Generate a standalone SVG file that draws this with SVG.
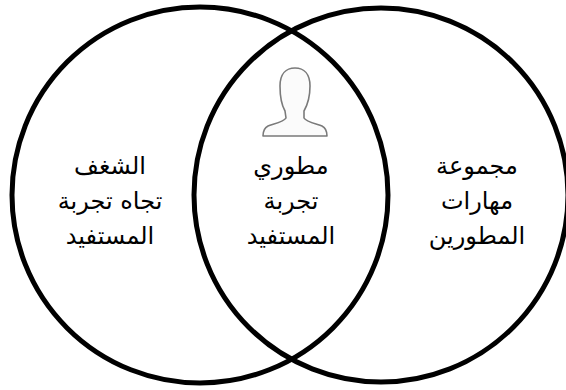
<svg xmlns="http://www.w3.org/2000/svg" width="566" height="390" viewBox="0 0 566 390">
<style>
.ring{fill:none;stroke:#000;stroke-width:5}
.lbl{font-family:"DejaVu Sans","Noto Sans",sans-serif;font-size:24px;fill:#000;text-anchor:middle;direction:rtl}
.icon{fill:#fbfbfb;stroke:#7a7a7a;stroke-width:1.6;stroke-linejoin:round}
</style>
<rect width="566" height="390" fill="#fff"/>
<g id="left-circle">
<circle class="ring" cx="200" cy="195" r="188"/>
<text class="lbl" x="110" y="174">الشغف</text>
<text class="lbl" x="110" y="209">تجاه تجربة</text>
<text class="lbl" x="110" y="244">المستفيد</text>
</g>
<g id="right-circle">
<circle class="ring" cx="381" cy="195" r="187"/>
<text class="lbl" x="477" y="174">مجموعة</text>
<text class="lbl" x="477" y="209">مهارات</text>
<text class="lbl" x="477" y="244">المطورين</text>
</g>
<g id="intersection">
<path class="icon" d="M285,111 C281,104 280,96 280,86 C280,74 286,68 295,68 C304,68 310,74 310,86 C310,96 308,104 304,111 L304,118 C306,122 317,124 322,126 C326,128 327,131 327,136 L263,136 C263,131 264,128 268,126 C273,124 284,122 286,118 Z"/>
<text class="lbl" x="291" y="174">مطوري</text>
<text class="lbl" x="291" y="209">تجربة</text>
<text class="lbl" x="291" y="244">المستفيد</text>
</g>
<g id="connectors"></g>
</svg>
